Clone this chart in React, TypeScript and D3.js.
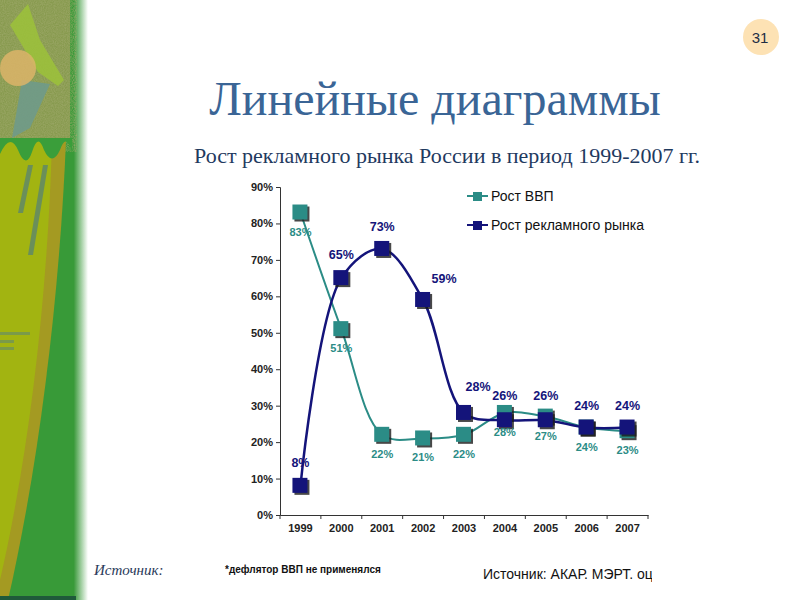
import React, { useEffect, useRef } from 'react';
import * as d3 from 'd3';

// years on the x axis
const years = ['1999', '2000', '2001', '2002', '2003', '2004', '2005', '2006', '2007'];
// рост ВВП, %
const gdpValues = [83, 51, 22, 21, 22, 28, 27, 24, 23];
// рост рекламного рынка, %
const adValues = [8, 65, 73, 59, 28, 26, 26, 24, 24];
const yTicks = [0, 10, 20, 30, 40, 50, 60, 70, 80, 90];
const seriesNames = ['Рост ВВП', 'Рост рекламного рынка'];

// label nudges (Excel users drag labels by hand)
const adLabelShift = [[0, -23], [0, -23], [0, -22], [21, -21], [14, -26], [0, -24], [0, -24], [0, -22], [0, -22]];

const TEAL = '#2b8c86';
const NAVY = '#14147a';

const App: React.FC = () => {
  const ref = useRef<SVGSVGElement>(null);

  useEffect(() => {
    if (!ref.current) return;
    const svg = d3.select(ref.current);
    svg.selectAll('*').remove();

    const defs = svg.append('defs');
    const noise = defs.append('filter').attr('id', 'grain');
    noise.append('feTurbulence').attr('type', 'fractalNoise').attr('baseFrequency', 0.9).attr('numOctaves', 2).attr('result', 'n');
    noise.append('feColorMatrix').attr('in', 'n').attr('type', 'matrix')
      .attr('values', '0 0 0 0 0.35  0 0 0 0 0.4  0 0 0 0 0.15  0 0 0 -1.2 0.9');
    const fade = defs.append('linearGradient').attr('id', 'fade');
    fade.append('stop').attr('offset', '0%').attr('stop-color', '#3c9a3c');
    fade.append('stop').attr('offset', '100%').attr('stop-color', '#ffffff');

    // left decoration
    const deco = svg.append('g');
    deco.append('rect').attr('x', 0).attr('y', 0).attr('width', 74).attr('height', 600).attr('fill', '#389a38');
    deco.append('rect').attr('x', 74).attr('y', 0).attr('width', 14).attr('height', 600).attr('fill', 'url(#fade)');
    deco.append('rect').attr('x', 0).attr('y', 0).attr('width', 70).attr('height', 138).attr('fill', '#879a4e');
    deco.append('rect').attr('x', 0).attr('y', 0).attr('width', 70).attr('height', 138).attr('filter', 'url(#grain)');
    deco.append('path').attr('d', 'M10,25 L28,4 L40,40 L64,80 L58,86 L38,72 Z').attr('fill', '#9cc23a').attr('opacity', 0.85);
    deco.append('path').attr('d', 'M22,80 L50,84 L30,128 L12,138 Z').attr('fill', '#6f9a8a').attr('opacity', 0.9);
    deco.append('circle').attr('cx', 18).attr('cy', 68).attr('r', 18).attr('fill', '#dcb468').attr('opacity', 0.85);
    deco.append('path').attr('d', 'M0,140 L66,140 C60,290 40,460 8,600 L0,600 Z').attr('fill', '#a49a22');
    deco.append('path').attr('d', 'M0,140 L52,140 C48,290 30,450 0,580 Z').attr('fill', '#a2b411');
    deco.append('path').attr('d', 'M0,138 L72,138 L72,152 Q66,132 60,150 Q52,167 44,150 Q38,132 32,152 Q26,170 18,150 Q10,132 0,154 Z').attr('fill', '#3a9e3a');
    deco.append('path').attr('d', 'M28,165 L33,165 L23,213 L18,213 Z').attr('fill', '#6a8f5a');
    deco.append('path').attr('d', 'M43,165 L48,165 L33,255 L28,255 Z').attr('fill', '#6a8f5a');
    deco.append('rect').attr('x', 0).attr('y', 332).attr('width', 30).attr('height', 3).attr('fill', '#7a9a4a');
    deco.append('rect').attr('x', 0).attr('y', 340).attr('width', 14).attr('height', 3).attr('fill', '#7a9a4a');
    deco.append('rect').attr('x', 0).attr('y', 347).attr('width', 14).attr('height', 3).attr('fill', '#7a9a4a');
    deco.append('rect').attr('x', 0).attr('y', 596).attr('width', 76).attr('height', 4).attr('fill', '#1f5a3a');

    // page number
    svg.append('circle').attr('cx', 761).attr('cy', 37).attr('r', 18).attr('fill', '#fde2b4');
    svg.append('text').attr('x', 760).attr('y', 43).attr('text-anchor', 'middle')
      .style('font', '15px Arial, "Liberation Sans", sans-serif').attr('fill', '#1e2e44').text('31');

    // titles
    svg.append('text').attr('x', 435).attr('y', 115).attr('text-anchor', 'middle')
      .style('font', '48px "Liberation Serif", "DejaVu Serif", serif').attr('fill', '#3a6596').text('Линейные диаграммы');
    svg.append('text').attr('x', 447).attr('y', 163).attr('text-anchor', 'middle')
      .style('font', '22px "Liberation Serif", "DejaVu Serif", serif').attr('fill', '#1f3a5f')
      .text('Рост рекламного рынка России в период 1999-2007 гг.');

    // chart
    const x = d3.scaleBand().domain(years).range([280, 648]);
    const y = d3.scaleLinear().domain([0, 90]).range([515, 187]);
    const cx = (yr: string) => (x(yr) || 0) + x.bandwidth() / 2;
    const axisFont = 'bold 11px Arial, "Liberation Sans", sans-serif';

    const yAxis = svg.append('g').attr('transform', 'translate(280,0)')
      .call(d3.axisLeft(y).tickValues(yTicks).tickSize(4).tickFormat(d => `${d}%`));
    yAxis.selectAll('text').style('font', axisFont).attr('fill', '#222');
    yAxis.selectAll('line,path').attr('stroke', '#333');

    const xAxis = svg.append('g').attr('transform', 'translate(0,515)')
      .call(d3.axisBottom(x).tickSize(0).tickSizeOuter(0));
    xAxis.selectAll('text').style('font', axisFont).attr('fill', '#222').attr('dy', '1.3em');
    xAxis.selectAll('path').attr('stroke', '#333');
    xAxis.selectAll('.sep').data(years.concat(['end'])).enter().append('line')
      .attr('x1', (d, i) => 280 + i * x.bandwidth()).attr('x2', (d, i) => 280 + i * x.bandwidth())
      .attr('y1', 0).attr('y2', 4).attr('stroke', '#333');

    const line = d3.line<number>()
      .x((d, i) => cx(years[i]))
      .y(d => y(d))
      .curve(d3.curveCatmullRom.alpha(0.5));

    const drawSeries = (vals: number[], color: string, width: number) => {
      svg.append('path').attr('d', line(vals)).attr('fill', 'none').attr('stroke', color).attr('stroke-width', width);
      const g = svg.append('g');
      g.selectAll('rect.sh').data(vals).enter().append('rect')
        .attr('x', (d, i) => cx(years[i]) - 6).attr('y', d => y(d) - 6)
        .attr('width', 15).attr('height', 15).attr('fill', '#1a1a1a').attr('opacity', 0.8);
      g.selectAll('rect.mk').data(vals).enter().append('rect')
        .attr('x', (d, i) => cx(years[i]) - 8).attr('y', d => y(d) - 8)
        .attr('width', 15).attr('height', 15).attr('fill', color);
    };
    drawSeries(gdpValues, TEAL, 2);
    drawSeries(adValues, NAVY, 2.5);

    svg.append('g').selectAll('text').data(gdpValues).enter().append('text')
      .attr('x', (d, i) => cx(years[i])).attr('y', d => y(d) + 23)
      .attr('text-anchor', 'middle').style('font', 'bold 11px Arial, "Liberation Sans", sans-serif')
      .attr('fill', TEAL).text(d => `${d}%`);
    svg.append('g').selectAll('text').data(adValues).enter().append('text')
      .attr('x', (d, i) => cx(years[i]) + adLabelShift[i][0]).attr('y', (d, i) => y(d) + adLabelShift[i][1] + 4)
      .attr('text-anchor', 'middle').style('font', 'bold 12.5px Arial, "Liberation Sans", sans-serif')
      .attr('fill', NAVY).text(d => `${d}%`);

    // legend
    const legend = svg.append('g');
    [TEAL, NAVY].forEach((c, i) => {
      const ly = 196 + i * 29;
      legend.append('line').attr('x1', 467).attr('x2', 488).attr('y1', ly).attr('y2', ly).attr('stroke', c).attr('stroke-width', 2);
      legend.append('rect').attr('x', 473).attr('y', ly - 4).attr('width', 9).attr('height', 9).attr('fill', c);
      legend.append('text').attr('x', 491).attr('y', ly + 5).style('font', '14px Arial, "Liberation Sans", sans-serif')
        .attr('fill', '#111').text(seriesNames[i]);
    });

    // footer
    svg.append('text').attr('x', 94).attr('y', 575)
      .style('font', 'italic 15px "Liberation Serif", "DejaVu Serif", serif').attr('fill', '#2a3a5a').text('Источник:');
    svg.append('text').attr('x', 225).attr('y', 573)
      .style('font', 'bold 10px Arial, "Liberation Sans", sans-serif').attr('fill', '#111').text('*дефлятор ВВП не применялся');
    defs.append('clipPath').attr('id', 'srcClip').append('rect').attr('x', 470).attr('y', 555).attr('width', 182).attr('height', 30);
    svg.append('text').attr('x', 483).attr('y', 579).attr('clip-path', 'url(#srcClip)')
      .style('font', '14px Arial, "Liberation Sans", sans-serif').attr('fill', '#111').text('Источник: АКАР. МЭРТ. оценки');
  }, []);

  return (
    <svg ref={ref} width={800} height={600}
      style={{ position: 'absolute', left: 0, top: 0, background: '#fff' }} />
  );
};

export default App;
